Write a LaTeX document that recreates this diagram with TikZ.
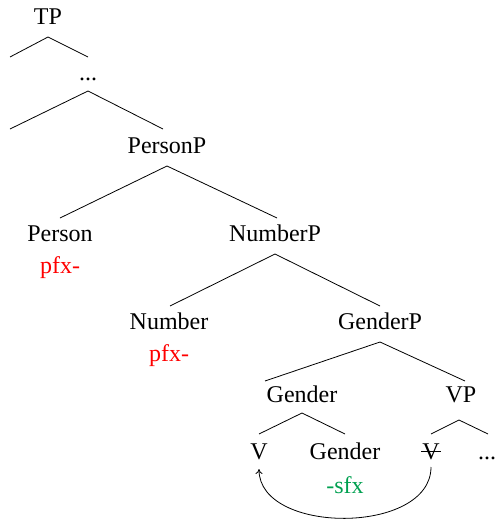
\documentclass[tikz,border=0pt]{standalone}
\usepackage{fontspec}
\setmainfont{Liberation Serif}
\usetikzlibrary{calc,arrows.meta}
\definecolor{affred}{RGB}{255,0,0}
\definecolor{affgreen}{RGB}{0,160,80}
\tikzset{
  lab/.style={anchor=base,inner sep=0pt,font=\fontsize{24}{28}\selectfont},
  pre/.style={lab,text=affred},
  suf/.style={lab,text=affgreen},
  branch/.style={line width=0.8pt},
  move/.style={line width=0.8pt,-{To[length=5pt,width=7pt]}}
}
\begin{document}
\begin{tikzpicture}[x=1pt,y=-1pt]
\useasboundingbox (0,0) rectangle (497,519);
% labels
\node[lab] (tp) at (48,25) {TP};
\node[lab] (dots1) at (88,80) {...};
\node[lab] (personp) at (167,153) {PersonP};
\node[lab] (person) at (60,241) {Person};
\node[pre] (pfx1) at (60,273) {pfx-};
\node[lab] (numberp) at (275,241) {NumberP};
\node[lab] (number) at (169,329) {Number};
\node[pre] (pfx2) at (169,361) {pfx-};
\node[lab] (genderp) at (380,329) {GenderP};
\node[lab] (gender) at (302,402) {Gender};
\node[lab] (vp) at (461,402) {VP};
\node[lab] (v) at (259,459) {V};
\node[lab] (gender2) at (345,459) {Gender};
\node[lab] (vs) at (431,459) {V};
\node[lab] (dots2) at (487,459) {...};
\node[suf] (sfx) at (345,493) {-sfx};
% strike through trace
\draw[line width=0.8pt] ($(vs.base west)+(-1,-8)$) -- ($(vs.base east)+(1,-8)$);
% branch points
\coordinate (tpA) at (48,37);
\coordinate (tpL) at (10,57);
\coordinate (tpR) at (88,57);
\coordinate (d1A) at (88,91);
\coordinate (d1L) at (10,129);
\coordinate (d1R) at (163,129);
\coordinate (ppA) at (167,166);
\coordinate (ppL) at (60,218);
\coordinate (ppR) at (277,218);
\coordinate (npA) at (275,254);
\coordinate (npL) at (170,306);
\coordinate (npR) at (380,306);
\coordinate (gpA) at (380,342);
\coordinate (gpL) at (265,381);
\coordinate (gpR) at (465,381);
\coordinate (gA) at (302,413);
\coordinate (gL) at (259,434);
\coordinate (gR) at (345,434);
\coordinate (vpA) at (459,420);
\coordinate (vpL) at (431,434);
\coordinate (vpR) at (488,434);
\draw[branch] (tpL) -- (tpA) -- (tpR);
\draw[branch] (d1L) -- (d1A) -- (d1R);
\draw[branch] (ppL) -- (ppA) -- (ppR);
\draw[branch] (npL) -- (npA) -- (npR);
\draw[branch] (gpL) -- (gpA) -- (gpR);
\draw[branch] (gL) -- (gA) -- (gR);
\draw[branch] (vpL) -- (vpA) -- (vpR);
% movement arrow
\coordinate (mvS) at (431,467);
\coordinate (mvE) at (259,469);
\draw[move] (mvS) .. controls (431,535) and (259,535) .. (mvE);
\end{tikzpicture}
\end{document}
